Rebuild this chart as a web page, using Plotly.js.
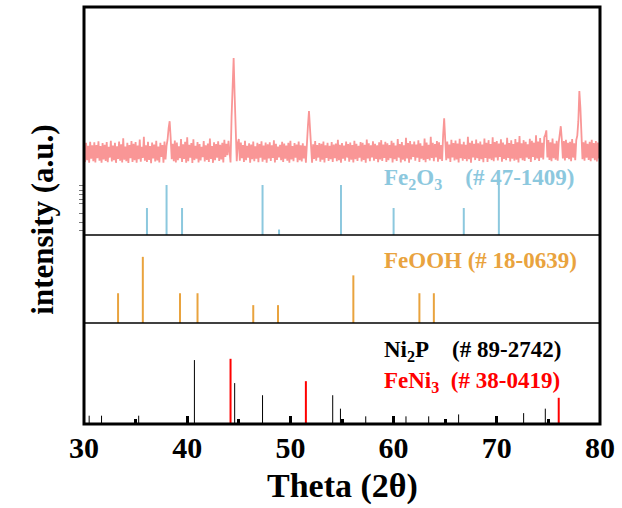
<!DOCTYPE html>
<html>
<head>
<meta charset="utf-8">
<script src="https://cdn.plot.ly/plotly-3.0.1.min.js"></script>
<style>html,body{margin:0;padding:0;background:#fff;}#chart{width:622px;height:508px;}</style>
</head>
<body>
<div id="chart"></div>
<script>
// ---- measured XRD pattern (2θ from 30 to 80, step 0.1) ----
const xrdStart = 30, xrdStep = 0.1;
const xrdIntensity = [
398,322,405,330,392,318,410,336,395,325,
408,320,396,338,412,327,391,319,404,333,
397,326,409,321,388,341,414,324,393,329,
405,318,390,335,411,327,399,320,425,332,
389,325,406,317,396,338,413,322,401,330,
409,319,393,334,420,323,388,339,432,327,
395,322,410,331,391,316,407,337,398,324,
414,328,389,320,405,344,396,318,411,333,
392,420,470,500,425,334,401,325,415,320,
407,329,390,338,422,322,399,335,410,319,
430,325,397,341,404,317,421,330,392,336,
409,320,400,328,388,343,413,324,395,331,
402,322,424,335,391,318,408,329,400,340,
412,326,397,333,405,320,419,344,401,351,
414,365,320,520,700,776,610,420,325,404,
422,327,407,338,396,322,414,330,392,341,
403,318,398,334,411,325,390,336,405,321,
400,340,412,323,393,332,407,319,399,337,
408,326,394,339,416,320,401,331,389,342,
397,329,410,322,402,336,393,327,406,318,
414,333,391,325,404,340,398,321,411,330,
395,324,403,337,392,319,420,480,544,470,
407,319,399,335,413,327,396,341,404,323,
401,332,411,320,395,339,406,326,392,334,
409,322,398,338,402,325,419,330,397,319,
404,336,393,327,411,341,400,323,407,332,
396,320,414,334,401,326,392,340,409,324,
405,331,397,319,420,337,403,325,394,342,
412,327,401,335,395,321,408,333,417,326,
398,339,410,322,403,330,396,338,414,320,
406,334,393,326,422,341,400,320,409,332,
395,325,427,337,404,319,413,333,399,344,
411,327,398,340,416,322,403,336,392,330,
424,321,407,335,397,328,432,339,405,325,
400,342,413,323,408,334,396,326,440,513,
420,329,411,337,398,322,419,341,404,328,
415,333,402,320,423,338,399,327,410,335,
397,325,432,334,406,319,414,342,401,330,
420,338,403,326,411,334,398,321,424,339,
406,322,417,336,400,330,430,325,409,341,
413,328,402,344,421,323,407,335,398,329,
427,339,404,324,416,336,400,327,422,332,
408,320,435,338,403,329,417,326,410,341,
399,335,423,322,414,344,406,330,438,337,
411,326,426,340,405,333,430,440,460,341,
417,331,408,325,424,338,402,332,414,327,
407,440,478,420,337,413,328,419,339,405,
334,410,325,422,341,403,329,417,437,500,
632,560,422,334,408,327,415,340,401,331,
410,325,419,338,404,329,413,324,407,337,
402
];

// ---- reference cards (2θ, relative intensity) ----
const fe2o3Pos = [36.1, 38.0, 39.5, 47.3, 48.9, 54.9, 60.0, 66.8, 70.2];
const fe2o3Int = [54, 100, 54, 100, 11, 100, 54, 54, 100];

const feoohPos = [33.3, 35.7, 39.3, 41.0, 46.4, 48.8, 56.1, 62.5, 63.9];
const feoohInt = [45, 100, 45, 45, 27, 27, 72, 45, 45];

const ni2pPos = [30.5, 31.7, 35.3, 40.7, 44.6, 47.3, 54.1, 54.85, 57.3, 61.2, 63.4, 66.3, 72.6, 74.7];
const ni2pInt = [13, 13, 13, 100, 64, 45, 45, 24, 12, 12, 12, 15, 17, 24];

const feni3Pos = [44.2, 51.5, 76.0];
const feni3Int = [102, 67, 41];

const xTickVals = [30, 40, 50, 60, 70, 80];

// ---- build traces ----
const xrdX = xrdIntensity.map((_, i) => +(xrdStart + i * xrdStep).toFixed(2));
function sticks(pos, ints) {
  const x = [], y = [];
  pos.forEach((p, i) => { x.push(p, p, null); y.push(0, ints[i], null); });
  return {x, y};
}
const s1 = sticks(fe2o3Pos, fe2o3Int);
const s2 = sticks(feoohPos, feoohInt);
const s3 = sticks(ni2pPos, ni2pInt);
const s4 = sticks(feni3Pos, feni3Int);

const cXRD = 'rgb(249,150,150)';
const cFe2O3 = 'rgb(140,200,222)';
const cFeOOH = 'rgb(233,163,62)';
const serif = 'Liberation Serif, Times New Roman, serif';

const traces = [
  {x: xrdX, y: xrdIntensity, type: 'scatter', mode: 'lines', line: {color: cXRD, width: 1.8}, xaxis: 'x', yaxis: 'y4', hoverinfo: 'skip'},
  {x: s1.x, y: s1.y, type: 'scatter', mode: 'lines', line: {color: cFe2O3, width: 2}, xaxis: 'x', yaxis: 'y3', hoverinfo: 'skip'},
  {x: s2.x, y: s2.y, type: 'scatter', mode: 'lines', line: {color: cFeOOH, width: 2}, xaxis: 'x', yaxis: 'y2', hoverinfo: 'skip'},
  {x: s3.x, y: s3.y, type: 'scatter', mode: 'lines', line: {color: '#000', width: 1}, xaxis: 'x', yaxis: 'y', hoverinfo: 'skip'},
  {x: s4.x, y: s4.y, type: 'scatter', mode: 'lines', line: {color: '#ff0000', width: 2}, xaxis: 'x', yaxis: 'y', hoverinfo: 'skip'}
];

const sep1 = 0.2422, sep2 = 0.4532, top3 = sep2 + 50/417;
const hidden = {showgrid: false, zeroline: false, showticklabels: false, ticks: '', showline: false, fixedrange: true};

const layout = {
  width: 622, height: 508,
  margin: {l: 83.5, r: 22, t: 7, b: 84},
  paper_bgcolor: '#fff', plot_bgcolor: 'rgba(0,0,0,0)',
  showlegend: false,
  xaxis: {
    range: [30, 80], anchor: 'y', tickvals: xTickVals, ticktext: xTickVals.map(String),
    ticks: 'inside', ticklen: 8, tickwidth: 3, tickcolor: '#000',
    minor: {ticks: 'inside', ticklen: 5, tickwidth: 3, tickcolor: '#000', dtick: 5, showgrid: false},
    showgrid: false, zeroline: false, showline: false, ticklabelstandoff: 3,
    tickfont: {family: serif, size: 30, color: '#000', weight: 'bold'}
  },
  yaxis: Object.assign({domain: [0, sep1], range: [0, 158], anchor: 'x'}, hidden),
  yaxis2: Object.assign({domain: [sep1, sep2], range: [0, 133], anchor: 'x'}, hidden),
  yaxis3: Object.assign({}, hidden, {domain: [sep2, top3], range: [0, 100], anchor: 'x',
    ticks: 'outside', ticklen: 4, tickwidth: 1, tickcolor: '#777', tickvals: [10, 26, 44, 64, 72, 82, 90, 100]}),
  yaxis4: Object.assign({domain: [top3, 1], range: [221, 999], anchor: 'x'}, hidden),
  shapes: [
    {type: 'line', xref: 'paper', yref: 'paper', x0: 0, x1: 1, y0: sep1, y1: sep1, line: {color: '#000', width: 1.5}},
    {type: 'line', xref: 'paper', yref: 'paper', x0: 0, x1: 1, y0: sep2, y1: sep2, line: {color: '#000', width: 1.5}},
    {type: 'rect', xref: 'paper', yref: 'paper', x0: 0, x1: 1, y0: 0, y1: 1, line: {color: '#000', width: 3}, layer: 'above'}
  ],
  annotations: [
    {text: 'Fe<sub>2</sub>O<sub>3</sub>&nbsp;&nbsp;&nbsp;&nbsp;(# 47-1409)', xref: 'x', yref: 'paper', x: 58.9, y: 0.5875, xanchor: 'left', yanchor: 'middle', showarrow: false, font: {family: serif, size: 23, color: cFe2O3, weight: 'bold'}},
    {text: 'FeOOH (# 18-0639)', xref: 'x', yref: 'paper', x: 58.9, y: 0.391, xanchor: 'left', yanchor: 'middle', showarrow: false, font: {family: serif, size: 23, color: cFeOOH, weight: 'bold'}},
    {text: 'Ni<sub>2</sub>P&nbsp;&nbsp;&nbsp;&nbsp;(# 89-2742)', xref: 'x', yref: 'paper', x: 58.9, y: 0.175, xanchor: 'left', yanchor: 'middle', showarrow: false, font: {family: serif, size: 23, color: '#000', weight: 'bold'}},
    {text: 'FeNi<sub>3</sub>&nbsp;&nbsp;(# 38-0419)', xref: 'x', yref: 'paper', x: 58.9, y: 0.1007, xanchor: 'left', yanchor: 'middle', showarrow: false, font: {family: serif, size: 23, color: '#ff0000', weight: 'bold'}},
    {text: 'intensity (a.u.)', xref: 'paper', yref: 'paper', x: -0.0803, y: 0.489, xanchor: 'center', yanchor: 'middle', textangle: -90, showarrow: false, font: {family: serif, size: 31, color: '#000', weight: 'bold'}},
    {text: 'Theta (2θ)', xref: 'paper', yref: 'paper', x: 0.5, y: -0.148, xanchor: 'center', yanchor: 'middle', showarrow: false, font: {family: serif, size: 34, color: '#000', weight: 'bold'}}
  ]
};

Plotly.newPlot('chart', traces, layout, {staticPlot: true, displayModeBar: false});
</script>
</body>
</html>
